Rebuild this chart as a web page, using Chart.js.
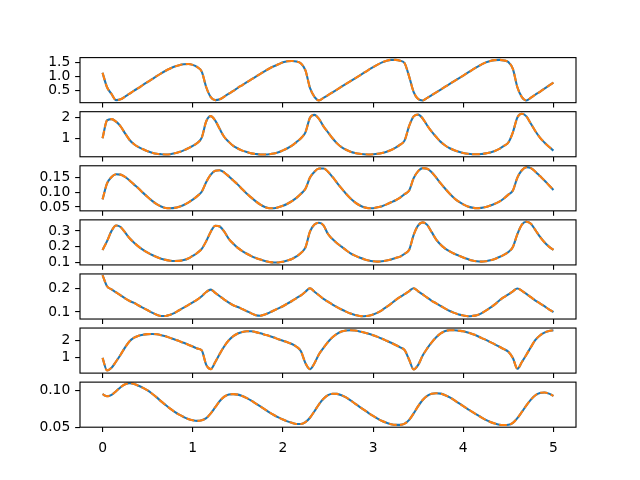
<!DOCTYPE html>
<html>
<head>
<meta charset="utf-8">
<script src="https://cdn.jsdelivr.net/npm/chart.js@4.4.0/dist/chart.umd.min.js"></script>
<style>
  html, body { margin: 0; padding: 0; background: #fff; }
  #fig { position: relative; width: 640px; height: 480px; overflow: hidden; background: #fff; }
  #fig canvas { position: absolute; left: 0; }
</style>
</head>
<body>
<div id="fig"></div>
<script>
// time axis shared by all seven panels
const times = [
  0.00, 0.05, 0.10, 0.15, 0.20, 0.25, 0.30, 0.35, 0.40, 0.45,
  0.50, 0.55, 0.60, 0.65, 0.70, 0.75, 0.80, 0.85, 0.90, 0.95,
  1.00, 1.05, 1.10, 1.15, 1.20, 1.25, 1.30, 1.35, 1.40, 1.45,
  1.50, 1.55, 1.60, 1.65, 1.70, 1.75, 1.80, 1.85, 1.90, 1.95,
  2.00, 2.05, 2.10, 2.15, 2.20, 2.25, 2.30, 2.35, 2.40, 2.45,
  2.50, 2.55, 2.60, 2.65, 2.70, 2.75, 2.80, 2.85, 2.90, 2.95,
  3.00, 3.05, 3.10, 3.15, 3.20, 3.25, 3.30, 3.35, 3.40, 3.45,
  3.50, 3.55, 3.60, 3.65, 3.70, 3.75, 3.80, 3.85, 3.90, 3.95,
  4.00, 4.05, 4.10, 4.15, 4.20, 4.25, 4.30, 4.35, 4.40, 4.45,
  4.50, 4.55, 4.60, 4.65, 4.70, 4.75, 4.80, 4.85, 4.90, 4.95,
  5.00
];

// one array per panel, top to bottom (solid and dashed curves coincide)
const y1 = [
  1.14, 0.62, 0.38, 0.16, 0.19, 0.29, 0.39, 0.50, 0.60, 0.71,
  0.81, 0.91, 1.02, 1.12, 1.21, 1.29, 1.36, 1.41, 1.44, 1.45,
  1.42, 1.34, 1.18, 0.62, 0.27, 0.16, 0.19, 0.29, 0.39, 0.49,
  0.60, 0.70, 0.80, 0.90, 1.00, 1.10, 1.20, 1.29, 1.37, 1.44,
  1.51, 1.55, 1.56, 1.54, 1.47, 1.22, 0.60, 0.28, 0.15, 0.24,
  0.34, 0.44, 0.54, 0.64, 0.74, 0.84, 0.94, 1.04, 1.14, 1.24,
  1.34, 1.43, 1.51, 1.57, 1.60, 1.60, 1.57, 1.48, 1.00, 0.45,
  0.20, 0.15, 0.24, 0.34, 0.44, 0.54, 0.64, 0.74, 0.84, 0.94,
  1.04, 1.14, 1.24, 1.34, 1.43, 1.51, 1.56, 1.59, 1.60, 1.58,
  1.52, 1.28, 0.62, 0.27, 0.15, 0.25, 0.36, 0.46, 0.57, 0.68,
  0.79
];
const y2 = [
  1.02, 1.86, 1.92, 1.80, 1.58, 1.25, 0.94, 0.74, 0.60, 0.50,
  0.41, 0.34, 0.29, 0.27, 0.26, 0.27, 0.31, 0.37, 0.45, 0.55,
  0.66, 0.80, 1.05, 1.82, 2.06, 1.85, 1.45, 1.08, 0.85, 0.66,
  0.54, 0.44, 0.37, 0.31, 0.28, 0.26, 0.26, 0.27, 0.30, 0.36,
  0.45, 0.55, 0.67, 0.84, 1.02, 1.30, 1.98, 2.12, 1.93, 1.58,
  1.30, 1.02, 0.78, 0.60, 0.48, 0.39, 0.33, 0.29, 0.27, 0.26,
  0.27, 0.29, 0.33, 0.39, 0.47, 0.58, 0.72, 0.92, 1.60, 2.05,
  2.13, 1.95, 1.62, 1.33, 1.08, 0.85, 0.68, 0.55, 0.46, 0.39,
  0.33, 0.29, 0.27, 0.27, 0.28, 0.31, 0.35, 0.42, 0.52, 0.66,
  0.82, 1.30, 2.00, 2.17, 2.05, 1.70, 1.35, 1.05, 0.82, 0.62,
  0.44
];
const y3 = [
  0.076, 0.130, 0.152, 0.161, 0.160, 0.152, 0.140, 0.126, 0.113, 0.098,
  0.084, 0.071, 0.060, 0.052, 0.047, 0.046, 0.047, 0.051, 0.057, 0.065,
  0.075, 0.087, 0.102, 0.135, 0.160, 0.173, 0.175, 0.167, 0.154, 0.140,
  0.126, 0.110, 0.095, 0.082, 0.069, 0.058, 0.050, 0.046, 0.046, 0.049,
  0.054, 0.061, 0.070, 0.081, 0.095, 0.112, 0.150, 0.170, 0.181, 0.181,
  0.170, 0.152, 0.132, 0.113, 0.095, 0.079, 0.066, 0.056, 0.049, 0.046,
  0.046, 0.049, 0.053, 0.059, 0.066, 0.073, 0.082, 0.094, 0.106, 0.148,
  0.172, 0.182, 0.180, 0.168, 0.150, 0.130, 0.112, 0.095, 0.080, 0.068,
  0.059, 0.052, 0.048, 0.046, 0.047, 0.050, 0.055, 0.061, 0.068, 0.079,
  0.092, 0.106, 0.150, 0.175, 0.185, 0.182, 0.170, 0.155, 0.140, 0.124,
  0.108
];
const y4 = [
  0.179, 0.235, 0.300, 0.334, 0.325, 0.290, 0.253, 0.225, 0.200, 0.179,
  0.162, 0.147, 0.134, 0.123, 0.116, 0.111, 0.109, 0.110, 0.115, 0.125,
  0.142, 0.160, 0.186, 0.235, 0.295, 0.333, 0.328, 0.295, 0.250, 0.218,
  0.192, 0.172, 0.155, 0.140, 0.128, 0.118, 0.109, 0.103, 0.099, 0.100,
  0.104, 0.112, 0.122, 0.138, 0.160, 0.195, 0.295, 0.340, 0.352, 0.335,
  0.280, 0.248, 0.222, 0.200, 0.178, 0.158, 0.143, 0.131, 0.120, 0.112,
  0.107, 0.105, 0.107, 0.112, 0.119, 0.128, 0.137, 0.155, 0.180, 0.275,
  0.335, 0.354, 0.338, 0.292, 0.245, 0.212, 0.188, 0.170, 0.155, 0.143,
  0.131, 0.121, 0.112, 0.107, 0.105, 0.107, 0.113, 0.122, 0.134, 0.148,
  0.166, 0.198, 0.280, 0.340, 0.358, 0.345, 0.305, 0.263, 0.228, 0.200,
  0.179
];
const y5 = [
  0.255, 0.208, 0.195, 0.182, 0.170, 0.157, 0.146, 0.138, 0.127, 0.117,
  0.107, 0.097, 0.088, 0.083, 0.083, 0.088, 0.096, 0.107, 0.118, 0.129,
  0.140, 0.152, 0.166, 0.184, 0.194, 0.180, 0.166, 0.152, 0.139, 0.128,
  0.121, 0.112, 0.103, 0.094, 0.086, 0.084, 0.089, 0.097, 0.106, 0.115,
  0.124, 0.135, 0.146, 0.158, 0.170, 0.185, 0.200, 0.185, 0.170, 0.155,
  0.143, 0.131, 0.120, 0.110, 0.101, 0.093, 0.087, 0.083, 0.082, 0.084,
  0.089, 0.097, 0.108, 0.121, 0.135, 0.150, 0.163, 0.175, 0.188, 0.200,
  0.187, 0.174, 0.160, 0.147, 0.136, 0.125, 0.114, 0.104, 0.096, 0.089,
  0.085, 0.082, 0.083, 0.086, 0.094, 0.105, 0.118, 0.132, 0.148, 0.162,
  0.174, 0.187, 0.199, 0.189, 0.176, 0.162, 0.148, 0.136, 0.124, 0.111,
  0.099
];
const y6 = [
  0.96, 0.22, 0.38, 0.75, 1.15, 1.58, 1.94, 2.15, 2.27, 2.33,
  2.36, 2.37, 2.35, 2.30, 2.23, 2.14, 2.05, 1.95, 1.85, 1.74,
  1.63, 1.52, 1.40, 0.55, 0.30, 0.72, 1.20, 1.65, 2.00, 2.24,
  2.40, 2.49, 2.53, 2.53, 2.48, 2.41, 2.33, 2.25, 2.16, 2.06,
  1.97, 1.88, 1.78, 1.62, 1.35, 0.65, 0.30, 0.65, 1.18, 1.55,
  1.90, 2.18, 2.38, 2.51, 2.57, 2.59, 2.57, 2.52, 2.46, 2.39,
  2.30, 2.20, 2.09, 1.97, 1.85, 1.72, 1.58, 1.42, 0.85, 0.28,
  0.55, 1.10, 1.52, 1.88, 2.18, 2.40, 2.54, 2.59, 2.59, 2.56,
  2.53, 2.46, 2.37, 2.27, 2.14, 2.02, 1.89, 1.76, 1.62, 1.48,
  1.32, 0.95, 0.32, 0.72, 1.15, 1.60, 2.02, 2.28, 2.45, 2.54,
  2.59
];
const y7 = [
  0.0955, 0.0925, 0.0945, 0.0995, 0.1050, 0.1090, 0.1105, 0.1095, 0.1070, 0.1040,
  0.1005, 0.0960, 0.0910, 0.0855, 0.0805, 0.0755, 0.0710, 0.0672, 0.0640, 0.0612,
  0.0595, 0.0587, 0.0595, 0.0625, 0.0690, 0.0775, 0.0860, 0.0920, 0.0950, 0.0955,
  0.0948, 0.0928, 0.0900, 0.0865, 0.0825, 0.0785, 0.0745, 0.0705, 0.0668, 0.0635,
  0.0605, 0.0580, 0.0560, 0.0545, 0.0545, 0.0570, 0.0630, 0.0720, 0.0815, 0.0890,
  0.0940, 0.0960, 0.0958, 0.0940, 0.0910, 0.0870, 0.0825, 0.0780, 0.0738, 0.0695,
  0.0655, 0.0618, 0.0585, 0.0560, 0.0540, 0.0532, 0.0532, 0.0548, 0.0600, 0.0690,
  0.0790, 0.0875, 0.0930, 0.0960, 0.0968, 0.0962, 0.0940, 0.0910, 0.0872, 0.0830,
  0.0790, 0.0750, 0.0710, 0.0672, 0.0635, 0.0600, 0.0572, 0.0550, 0.0535, 0.0530,
  0.0533, 0.0560, 0.0625, 0.0710, 0.0800, 0.0880, 0.0940, 0.0972, 0.0978, 0.0962,
  0.0930
];

const panels = [y1, y2, y3, y4, y5, y6, y7];

// axis ranges and tick labels
const yLimits = [[0.07, 1.68], [0.15, 2.27], [0.037, 0.190], [0.084, 0.370], [0.070, 0.260], [0.065, 2.72], [0.050, 0.112]];
const yTicks = [[0.5, 1.0, 1.5], [1, 2], [0.05, 0.10, 0.15], [0.1, 0.2, 0.3], [0.1, 0.2], [1, 2], [0.05, 0.10]];
const yDecimals = [1, 0, 2, 1, 1, 0, 2];
const xTicks = [0, 1, 2, 3, 4, 5];
const xLimits = [-0.25, 5.25];

// figure geometry: 7 rows, default subplot margins, hspace 0.2
const LEFT = 80, RIGHT = 576, TOP = 57.6, BOTTOM = 427.2;
const axH = (BOTTOM - TOP) / (7 + 6 * 0.2);
const gap = axH * 0.2;
const PT = 100 / 72; // points -> pixels at 100 dpi

const font = { family: 'DejaVu Sans', size: 10 * PT };

// matplotlib draws a full box around each axes
const framePlugin = {
  id: 'frame',
  afterDatasetsDraw(chart) {
    const { ctx, chartArea: a } = chart;
    ctx.save();
    ctx.strokeStyle = '#000';
    ctx.lineWidth = 0.8 * PT;
    ctx.strokeRect(a.left, a.top, a.right - a.left, a.bottom - a.top);
    ctx.restore();
  }
};

const fig = document.getElementById('fig');

panels.forEach((ys, i) => {
  const isLast = i === panels.length - 1;
  const axTop = TOP + i * (axH + gap);
  const canvasTop = Math.floor(axTop) - 20;
  const xAxisH = isLast ? 32 : 10;
  const padTop = axTop - canvasTop;
  const height = Math.ceil(padTop + axH + xAxisH + 16);
  const padBottom = height - padTop - axH - xAxisH;

  const canvas = document.createElement('canvas');
  canvas.width = 640;
  canvas.height = height;
  canvas.style.top = canvasTop + 'px';
  fig.appendChild(canvas);

  const points = () => times.map((t, k) => ({ x: t, y: ys[k] }));
  const tickGrid = { drawOnChartArea: false, drawTicks: true, tickLength: 3.5 * PT, color: '#000', lineWidth: 0.8 * PT };

  new Chart(canvas, {
    type: 'line',
    data: {
      datasets: [
        { data: points(), borderColor: '#1f77b4', borderWidth: 1.5 * PT, pointRadius: 0, order: 2 },
        { data: points(), borderColor: '#ff7f0e', borderWidth: 1.5 * PT, borderDash: [5.55 * PT, 2.4 * PT], pointRadius: 0, order: 1 }
      ]
    },
    options: {
      responsive: false,
      animation: false,
      devicePixelRatio: 1,
      layout: { padding: { left: 0, right: 640 - RIGHT, top: padTop, bottom: padBottom } },
      elements: { line: { cubicInterpolationMode: 'monotone', fill: false, borderCapStyle: 'butt' } },
      plugins: { legend: { display: false }, tooltip: { enabled: false } },
      scales: {
        x: {
          type: 'linear',
          min: xLimits[0],
          max: xLimits[1],
          afterBuildTicks: ax => { ax.ticks = xTicks.map(v => ({ value: v })); },
          afterFit: ax => { ax.height = xAxisH; },
          border: { display: false },
          grid: tickGrid,
          ticks: { display: isLast, color: '#000', font: font, padding: 8, maxRotation: 0, callback: v => String(v) }
        },
        y: {
          min: yLimits[i][0],
          max: yLimits[i][1],
          afterBuildTicks: ax => { ax.ticks = yTicks[i].map(v => ({ value: v })); },
          afterFit: ax => { ax.width = LEFT; },
          border: { display: false },
          grid: tickGrid,
          ticks: { color: '#000', font: font, padding: 3.5 * PT, callback: v => Number(v).toFixed(yDecimals[i]) }
        }
      }
    },
    plugins: [framePlugin]
  });
});
</script>
</body>
</html>
